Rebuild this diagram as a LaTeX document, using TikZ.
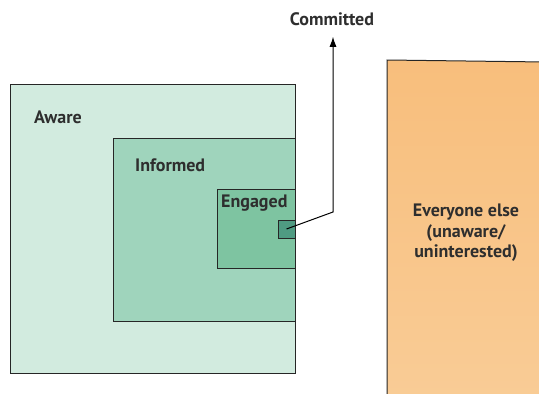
\documentclass[tikz,border=0pt]{standalone}
\usepackage{fontspec}
\setmainfont{PT Sans}
\usetikzlibrary{arrows.meta}
\definecolor{awarefill}{HTML}{D2EBDF}
\definecolor{informedfill}{HTML}{9FD4BC}
\definecolor{engagedfill}{HTML}{7EC4A1}
\definecolor{committedfill}{HTML}{4F9B82}
\definecolor{orangetop}{HTML}{F8BE7C}
\definecolor{orangemid}{HTML}{F4A752}
\definecolor{orangebot}{HTML}{F9CC96}
\definecolor{txt}{HTML}{2E2E2E}
\tikzset{
  boxline/.style={draw=black!85, line width=1pt},
  lbl/.style={font=\bfseries\fontsize{18}{20}\selectfont, text=txt, inner sep=0pt},
}
\begin{document}
\begin{tikzpicture}[x=1pt,y=-1pt]
\useasboundingbox (0,0) rectangle (539,394);
% orange block
\shade[top color=orangetop, middle color=orangemid, bottom color=orangebot] (387,60) -- (545,62) -- (545,400) -- (387,400) -- cycle;
\draw[boxline] (387,400) -- (387,60) -- (545,62);
\node[lbl, align=center] (else) at (466,233) {Everyone else\\[1pt](unaware/\\uninterested)};
% green boxes
\node[boxline, fill=awarefill, minimum width=285, minimum height=289, inner sep=0pt] (aware) at (152.5,229) {};
\node[boxline, fill=informedfill, minimum width=182, minimum height=183, inner sep=0pt] (informed) at (204,229.5) {};
\node[boxline, fill=engagedfill, minimum width=78, minimum height=79, inner sep=0pt] (engaged) at (256,228.5) {};
\node[boxline, fill=committedfill, minimum width=17, minimum height=18, inner sep=0pt] (committed) at (286.5,229) {};
\node[lbl, anchor=west] (awarel) at (34,117) {Aware};
\node[lbl, anchor=west] (informedl) at (135,165) {Informed};
\node[lbl, anchor=west] (engagedl) at (221,203) {Engaged};
% connector
\node[lbl] (committedl) at (332,19) {Committed};
\coordinate (bend) at (333,212);
\draw[line width=1pt, -{Latex[length=10pt,width=7pt]}, shorten >=11pt] (committed.center) -- (bend) -- (bend |- committedl.south);
\end{tikzpicture}
\end{document}
